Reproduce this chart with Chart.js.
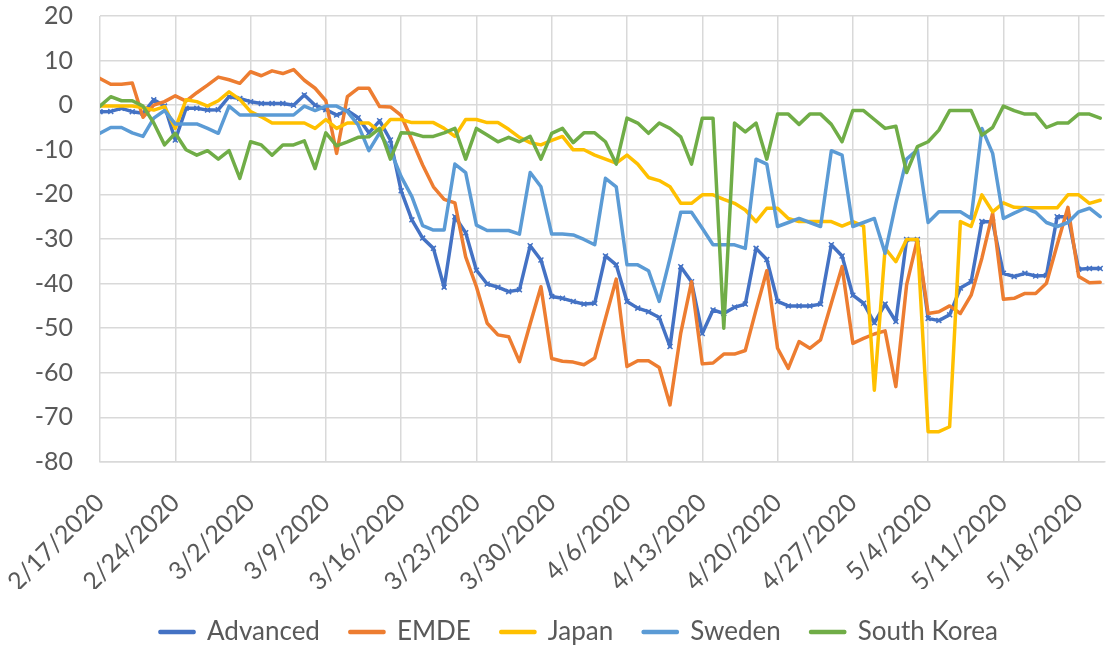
<!DOCTYPE html>
<html>
<head>
<meta charset="utf-8">
<title>Daily activity index</title>
<script src="https://cdn.jsdelivr.net/npm/chart.js@4.4.1/dist/chart.umd.min.js"></script>
<style>
  html, body { margin: 0; padding: 0; background: #fff; overflow: hidden; }
  #wrap { width: 1110px; height: 650px; }
</style>
</head>
<body>
<div id="wrap"><canvas id="chart" width="1110" height="650"></canvas></div>
<script>
// daily dates, 2/17/2020 .. 5/20/2020
const dates = [
  '2/17/2020','2/18/2020','2/19/2020','2/20/2020','2/21/2020','2/22/2020','2/23/2020','2/24/2020','2/25/2020','2/26/2020',
  '2/27/2020','2/28/2020','2/29/2020','3/1/2020','3/2/2020','3/3/2020','3/4/2020','3/5/2020','3/6/2020','3/7/2020',
  '3/8/2020','3/9/2020','3/10/2020','3/11/2020','3/12/2020','3/13/2020','3/14/2020','3/15/2020','3/16/2020','3/17/2020',
  '3/18/2020','3/19/2020','3/20/2020','3/21/2020','3/22/2020','3/23/2020','3/24/2020','3/25/2020','3/26/2020','3/27/2020',
  '3/28/2020','3/29/2020','3/30/2020','3/31/2020','4/1/2020','4/2/2020','4/3/2020','4/4/2020','4/5/2020','4/6/2020',
  '4/7/2020','4/8/2020','4/9/2020','4/10/2020','4/11/2020','4/12/2020','4/13/2020','4/14/2020','4/15/2020','4/16/2020',
  '4/17/2020','4/18/2020','4/19/2020','4/20/2020','4/21/2020','4/22/2020','4/23/2020','4/24/2020','4/25/2020','4/26/2020',
  '4/27/2020','4/28/2020','4/29/2020','4/30/2020','5/1/2020','5/2/2020','5/3/2020','5/4/2020','5/5/2020','5/6/2020',
  '5/7/2020','5/8/2020','5/9/2020','5/10/2020','5/11/2020','5/12/2020','5/13/2020','5/14/2020','5/15/2020','5/16/2020',
  '5/17/2020','5/18/2020','5/19/2020','5/20/2020'
];

const advanced = [
  -1.45, -1.4, -0.7, -1.45, -1.8, 1.2, -0.2, -7.8, -0.7, -0.7,
  -1.1, -1.0, 1.9, 1.5, 0.8, 0.4, 0.4, 0.4, 0.0, 2.3,
  0.0, -1.0, -2.2, -1.2, -2.8, -6.2, -3.5, -7.8, -19.2, -25.7,
  -29.8, -32.1, -40.8, -25.0, -28.6, -37.0, -40.1, -40.8, -41.8, -41.4,
  -31.5, -34.7, -42.9, -43.3, -44.0, -44.6, -44.4, -33.8, -35.8, -44.0,
  -45.5, -46.3, -47.6, -54.1, -36.2, -39.6, -51.2, -45.9, -46.7, -45.3,
  -44.6, -32.1, -34.6, -44.0, -45.0, -45.0, -45.0, -44.6, -31.3, -33.8,
  -42.6, -44.4, -48.8, -44.6, -48.5, -30.1, -30.1, -47.8, -48.3, -47.0,
  -41.0, -39.6, -26.1, -26.2, -37.7, -38.4, -37.7, -38.3, -38.2, -25.0,
  -25.0, -36.8, -36.6, -36.6
];

const emde = [
  6.0, 4.7, 4.7, 5.0, -2.7, 0.0, 0.8, 2.1, 0.9, 2.8,
  4.5, 6.3, 5.7, 4.9, 7.5, 6.6, 7.7, 7.1, 8.0, 5.6,
  3.8, 1.0, -10.8, 1.9, 3.8, 3.8, -0.3, -0.4, -2.3, -7.8,
  -13.4, -18.3, -21.1, -21.9, -34.0, -40.7, -48.9, -51.5, -51.9, -57.5,
  -49.0, -40.7, -56.8, -57.4, -57.6, -58.2, -56.7, -47.8, -39.0, -58.6,
  -57.3, -57.3, -58.8, -67.2, -51.1, -39.6, -58.0, -57.8, -55.8, -55.8,
  -55.0, -45.9, -37.1, -54.5, -59.0, -53.0, -54.5, -52.6, -44.4, -36.2,
  -53.4, -52.3, -51.3, -50.6, -63.1, -40.3, -30.1, -46.7, -46.3, -45.0,
  -46.7, -42.6, -34.3, -24.2, -43.5, -43.3, -42.2, -42.2, -39.9, -31.3,
  -22.9, -38.4, -39.8, -39.7
];

const japan = [
  -0.2, -0.2, -0.2, -0.2, -0.5, -1.1, -0.3, -5.2, 1.2, 0.8,
  -0.2, 1.0, 3.0, 1.3, -1.45, -2.6, -4.0, -4.0, -4.0, -4.0,
  -5.2, -3.2, -5.2, -4.0, -4.0, -4.0, -5.9, -3.2, -3.2, -3.9,
  -3.9, -3.9, -5.2, -7.0, -3.2, -3.2, -3.9, -3.9, -5.4, -7.2,
  -8.4, -8.9, -7.9, -7.0, -10.0, -10.0, -11.2, -12.1, -13.0, -11.2,
  -13.2, -16.2, -16.9, -18.3, -22.0, -22.0, -20.1, -20.1, -21.1, -22.0,
  -23.5, -26.1, -23.1, -23.1, -25.4, -26.1, -26.1, -26.1, -26.1, -27.1,
  -26.1, -27.1, -63.9, -32.1, -35.1, -30.1, -30.1, -73.2, -73.2, -72.1,
  -26.1, -27.2, -20.1, -23.9, -21.9, -22.9, -23.0, -23.0, -23.0, -23.0,
  -20.1, -20.1, -22.0, -21.3
];

const sweden = [
  -6.3, -5.0, -5.0, -6.2, -7.0, -2.9, -1.2, -4.2, -4.2, -4.2,
  -5.2, -6.3, -0.2, -2.2, -2.2, -2.2, -2.2, -2.2, -2.2, -0.2,
  -1.2, -0.2, -0.2, -1.45, -4.4, -10.2, -6.2, -10.1, -16.0, -20.5,
  -27.0, -28.0, -28.0, -13.2, -15.1, -26.9, -28.1, -28.1, -28.1, -28.9,
  -15.1, -18.3, -28.9, -28.9, -29.1, -30.1, -31.3, -16.4, -18.3, -35.8,
  -35.8, -37.1, -44.0, -34.3, -24.0, -24.0, -27.6, -31.3, -31.3, -31.3,
  -32.1, -12.1, -13.2, -27.2, -26.3, -25.4, -26.3, -27.2, -10.2, -11.2,
  -27.2, -26.3, -25.4, -33.2, -22.0, -12.1, -10.0, -26.3, -23.9, -23.9,
  -23.9, -25.4, -5.2, -10.8, -25.4, -24.2, -23.1, -24.0, -26.3, -27.2,
  -26.3, -23.9, -23.1, -25.0
];

const southKorea = [
  -0.2, 1.9, 1.0, 1.0, -0.2, -4.0, -8.9, -6.3, -10.0, -11.2,
  -10.2, -12.1, -10.2, -16.4, -8.2, -8.9, -11.2, -8.9, -8.9, -8.0,
  -14.2, -6.2, -9.1, -8.2, -7.2, -7.1, -5.2, -12.1, -6.2, -6.3,
  -7.0, -7.0, -6.2, -5.2, -12.1, -5.2, -6.7, -8.2, -7.2, -8.2,
  -7.0, -12.1, -6.3, -5.2, -8.4, -6.2, -6.2, -8.2, -13.2, -2.9,
  -4.0, -6.3, -4.0, -5.2, -7.1, -13.2, -2.9, -2.9, -50.0, -4.0,
  -6.0, -4.0, -12.1, -2.0, -2.0, -4.3, -2.0, -2.0, -4.3, -8.2,
  -1.2, -1.2, -3.2, -5.2, -4.7, -15.1, -9.3, -8.2, -5.6, -1.2,
  -1.2, -1.2, -6.7, -5.0, -0.2, -1.2, -2.0, -2.0, -5.0, -4.0,
  -4.0, -2.0, -2.0, -2.9
];

const yTicks = { min: -80, max: 20, step: 10 };

const textColor = '#595959';
const gridColor = '#D9D9D9';
const fontFamily = 'Lato, "Open Sans", sans-serif';
const clear = 'rgba(0,0,0,0)';

// x is the day index so that gridlines land on the weekly ticks
function points(values){
  return values.map((v, i) => ({ x: i, y: v }));
}

function series(label, values, color, order){
  return {
    label,
    data: points(values),
    borderColor: color,
    backgroundColor: color,
    borderWidth: 3.5,
    borderJoinStyle: 'round',
    borderCapStyle: 'round',
    pointRadius: 0,
    tension: 0,
    order
  };
}

function draw(){
  const adv = series('Advanced', advanced, '#4472C4', 5);
  adv.pointStyle = 'crossRot';
  adv.pointRadius = 3.5;
  adv.pointBorderWidth = 1.5;
  adv.pointBorderColor = '#4472C4';

  new Chart(document.getElementById('chart'), {
    type: 'line',
    data: {
      datasets: [
        adv,
        series('EMDE', emde, '#ED7D31', 4),
        series('Japan', japan, '#FFC000', 3),
        series('Sweden', sweden, '#5B9BD5', 2),
        series('South Korea', southKorea, '#70AD47', 1)
      ]
    },
    options: {
      responsive: false,
      animation: false,
      devicePixelRatio: 1,
      // right < 0 only nudges the centred legend; the plot still ends at the edge
      layout: { padding: { left: 35, top: 16, right: -13, bottom: 0 } },
      plugins: {
        legend: {
          position: 'bottom',
          reverse: true,   // order puts South Korea on top, flip legend back
          maxHeight: 61,
          labels: {
            color: textColor,
            font: { family: fontFamily, size: 26 },
            boxWidth: 34,
            boxHeight: 1,
            padding: 30
          }
        },
        tooltip: { enabled: false }
      },
      scales: {
        x: {
          type: 'linear',
          min: 0,
          max: 93.4,
          // invisible tick marks give the label gap without widening the side padding
          grid: { color: gridColor, lineWidth: 1.5, drawTicks: true, tickLength: 26, tickColor: clear },
          border: { color: gridColor, width: 1.5 },
          afterFit: (scale) => { scale.height = 127; },
          ticks: {
            stepSize: 7,
            includeBounds: false,
            autoSkip: false,
            minRotation: 45,
            maxRotation: 45,
            padding: 0,
            color: textColor,
            font: { family: fontFamily, size: 25 },
            callback: (v) => dates[v] ?? ''
          }
        },
        y: {
          min: yTicks.min,
          max: yTicks.max,
          grid: { color: gridColor, lineWidth: 1.5, drawTicks: true, tickLength: 27, tickColor: clear },
          border: { display: false },
          afterFit: (scale) => { scale.width = 65; },
          ticks: {
            stepSize: yTicks.step,
            padding: 0,
            color: textColor,
            font: { family: fontFamily, size: 25 }
          }
        }
      }
    }
  });
}

document.fonts.load('24px Lato').then(draw, draw);
</script>
</body>
</html>
